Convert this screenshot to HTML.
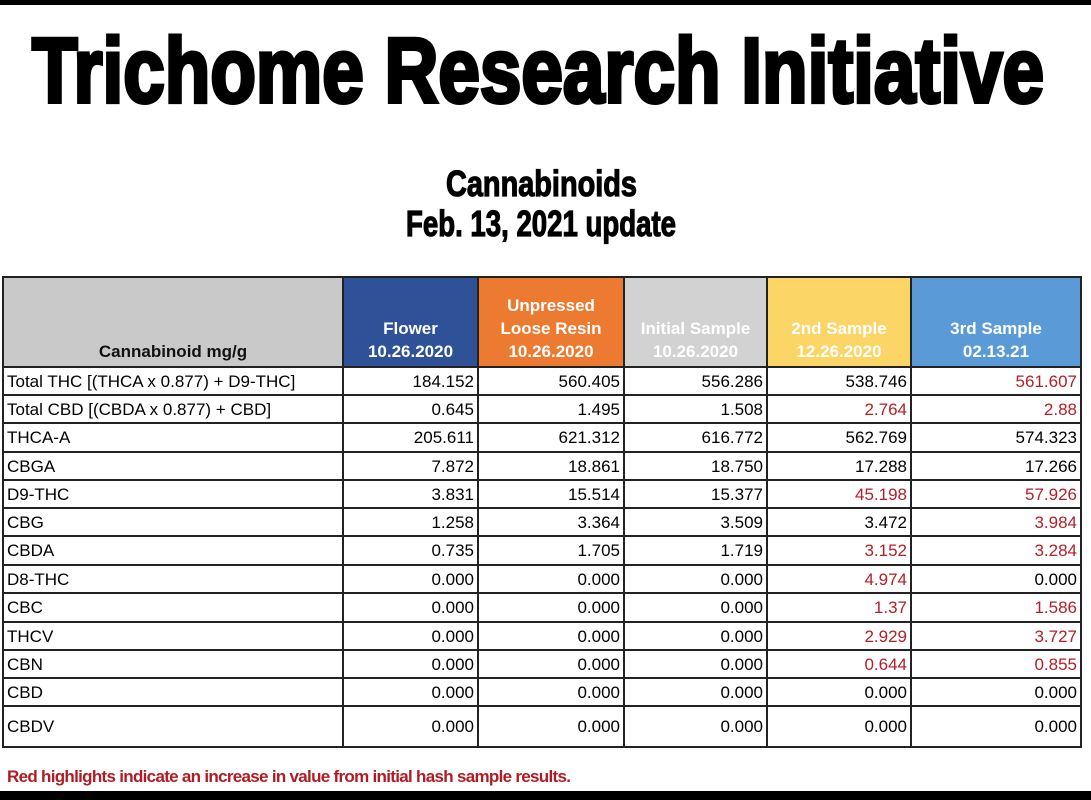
<!DOCTYPE html>
<html><head><meta charset="utf-8"><style>
body{margin:0;width:1091px;height:800px;background:#fff;position:relative;overflow:hidden;font-family:"Liberation Sans",sans-serif}
.bar{position:absolute;left:0;width:1091px;background:#000}
table{position:absolute;left:2px;top:276px;border-collapse:collapse;table-layout:fixed}
td{border:2px solid #222;padding:0 3px;font-size:17px;line-height:1;white-space:nowrap;overflow:hidden}
td.n{text-align:right}
.r{color:#b22028}
th{border:2px solid #222;font-size:17px;font-weight:bold;color:#fff;line-height:1.35;vertical-align:bottom;padding:0 0 2px 0}
.note{position:absolute;left:7px;top:767px;color:#b01c22;font-weight:bold;font-size:17px;letter-spacing:-0.7px}
</style></head><body>
<div class="bar" style="top:0;height:5px"></div>
<div class="bar" style="top:791px;height:9px"></div>
<svg style="position:absolute;left:0;top:0" width="1091" height="260">
<text x="32" y="102" textLength="1012" lengthAdjust="spacingAndGlyphs" font-family="Liberation Sans Narrow, Liberation Sans, sans-serif" font-weight="bold" font-size="92" stroke="#000" stroke-width="4">Trichome Research Initiative</text>
<text x="446" y="196" textLength="191" lengthAdjust="spacingAndGlyphs" font-family="Liberation Sans Narrow, Liberation Sans, sans-serif" font-weight="bold" font-size="36" stroke="#000" stroke-width="1.2">Cannabinoids</text>
<text x="406" y="236" textLength="270" lengthAdjust="spacingAndGlyphs" font-family="Liberation Sans Narrow, Liberation Sans, sans-serif" font-weight="bold" font-size="36" stroke="#000" stroke-width="1.2">Feb. 13, 2021 update</text>
</svg>
<table>
<colgroup><col style="width:340px"><col style="width:135px"><col style="width:146px"><col style="width:143px"><col style="width:144px"><col style="width:170px"></colgroup>
<tr style="height:90px">
<th style="background:#c9c9c9;color:#111">Cannabinoid mg/g</th>
<th style="background:#2f5197">Flower<br>10.26.2020</th>
<th style="background:#ec7a30">Unpressed<br>Loose Resin<br>10.26.2020</th>
<th style="background:#d3d2d2">Initial Sample<br>10.26.2020</th>
<th style="background:#fbd565">2nd Sample<br>12.26.2020</th>
<th style="background:#5a9ad6">3rd Sample<br>02.13.21</th>
</tr>
<tr style="height:28px"><td>Total THC [(THCA x 0.877) + D9-THC]</td><td class="n">184.152</td><td class="n">560.405</td><td class="n">556.286</td><td class="n">538.746</td><td class="n r">561.607</td></tr>
<tr style="height:28px"><td>Total CBD [(CBDA x 0.877) + CBD]</td><td class="n">0.645</td><td class="n">1.495</td><td class="n">1.508</td><td class="n r">2.764</td><td class="n r">2.88</td></tr>
<tr style="height:29px"><td>THCA-A</td><td class="n">205.611</td><td class="n">621.312</td><td class="n">616.772</td><td class="n">562.769</td><td class="n">574.323</td></tr>
<tr style="height:28px"><td>CBGA</td><td class="n">7.872</td><td class="n">18.861</td><td class="n">18.750</td><td class="n">17.288</td><td class="n">17.266</td></tr>
<tr style="height:28px"><td>D9-THC</td><td class="n">3.831</td><td class="n">15.514</td><td class="n">15.377</td><td class="n r">45.198</td><td class="n r">57.926</td></tr>
<tr style="height:28px"><td>CBG</td><td class="n">1.258</td><td class="n">3.364</td><td class="n">3.509</td><td class="n">3.472</td><td class="n r">3.984</td></tr>
<tr style="height:29px"><td>CBDA</td><td class="n">0.735</td><td class="n">1.705</td><td class="n">1.719</td><td class="n r">3.152</td><td class="n r">3.284</td></tr>
<tr style="height:28px"><td>D8-THC</td><td class="n">0.000</td><td class="n">0.000</td><td class="n">0.000</td><td class="n r">4.974</td><td class="n">0.000</td></tr>
<tr style="height:29px"><td>CBC</td><td class="n">0.000</td><td class="n">0.000</td><td class="n">0.000</td><td class="n r">1.37</td><td class="n r">1.586</td></tr>
<tr style="height:28px"><td>THCV</td><td class="n">0.000</td><td class="n">0.000</td><td class="n">0.000</td><td class="n r">2.929</td><td class="n r">3.727</td></tr>
<tr style="height:28px"><td>CBN</td><td class="n">0.000</td><td class="n">0.000</td><td class="n">0.000</td><td class="n r">0.644</td><td class="n r">0.855</td></tr>
<tr style="height:28px"><td>CBD</td><td class="n">0.000</td><td class="n">0.000</td><td class="n">0.000</td><td class="n">0.000</td><td class="n">0.000</td></tr>
<tr style="height:41px"><td>CBDV</td><td class="n">0.000</td><td class="n">0.000</td><td class="n">0.000</td><td class="n">0.000</td><td class="n">0.000</td></tr>
</table>
<div class="note">Red highlights indicate an increase in value from initial hash sample results.</div>
</body></html>
